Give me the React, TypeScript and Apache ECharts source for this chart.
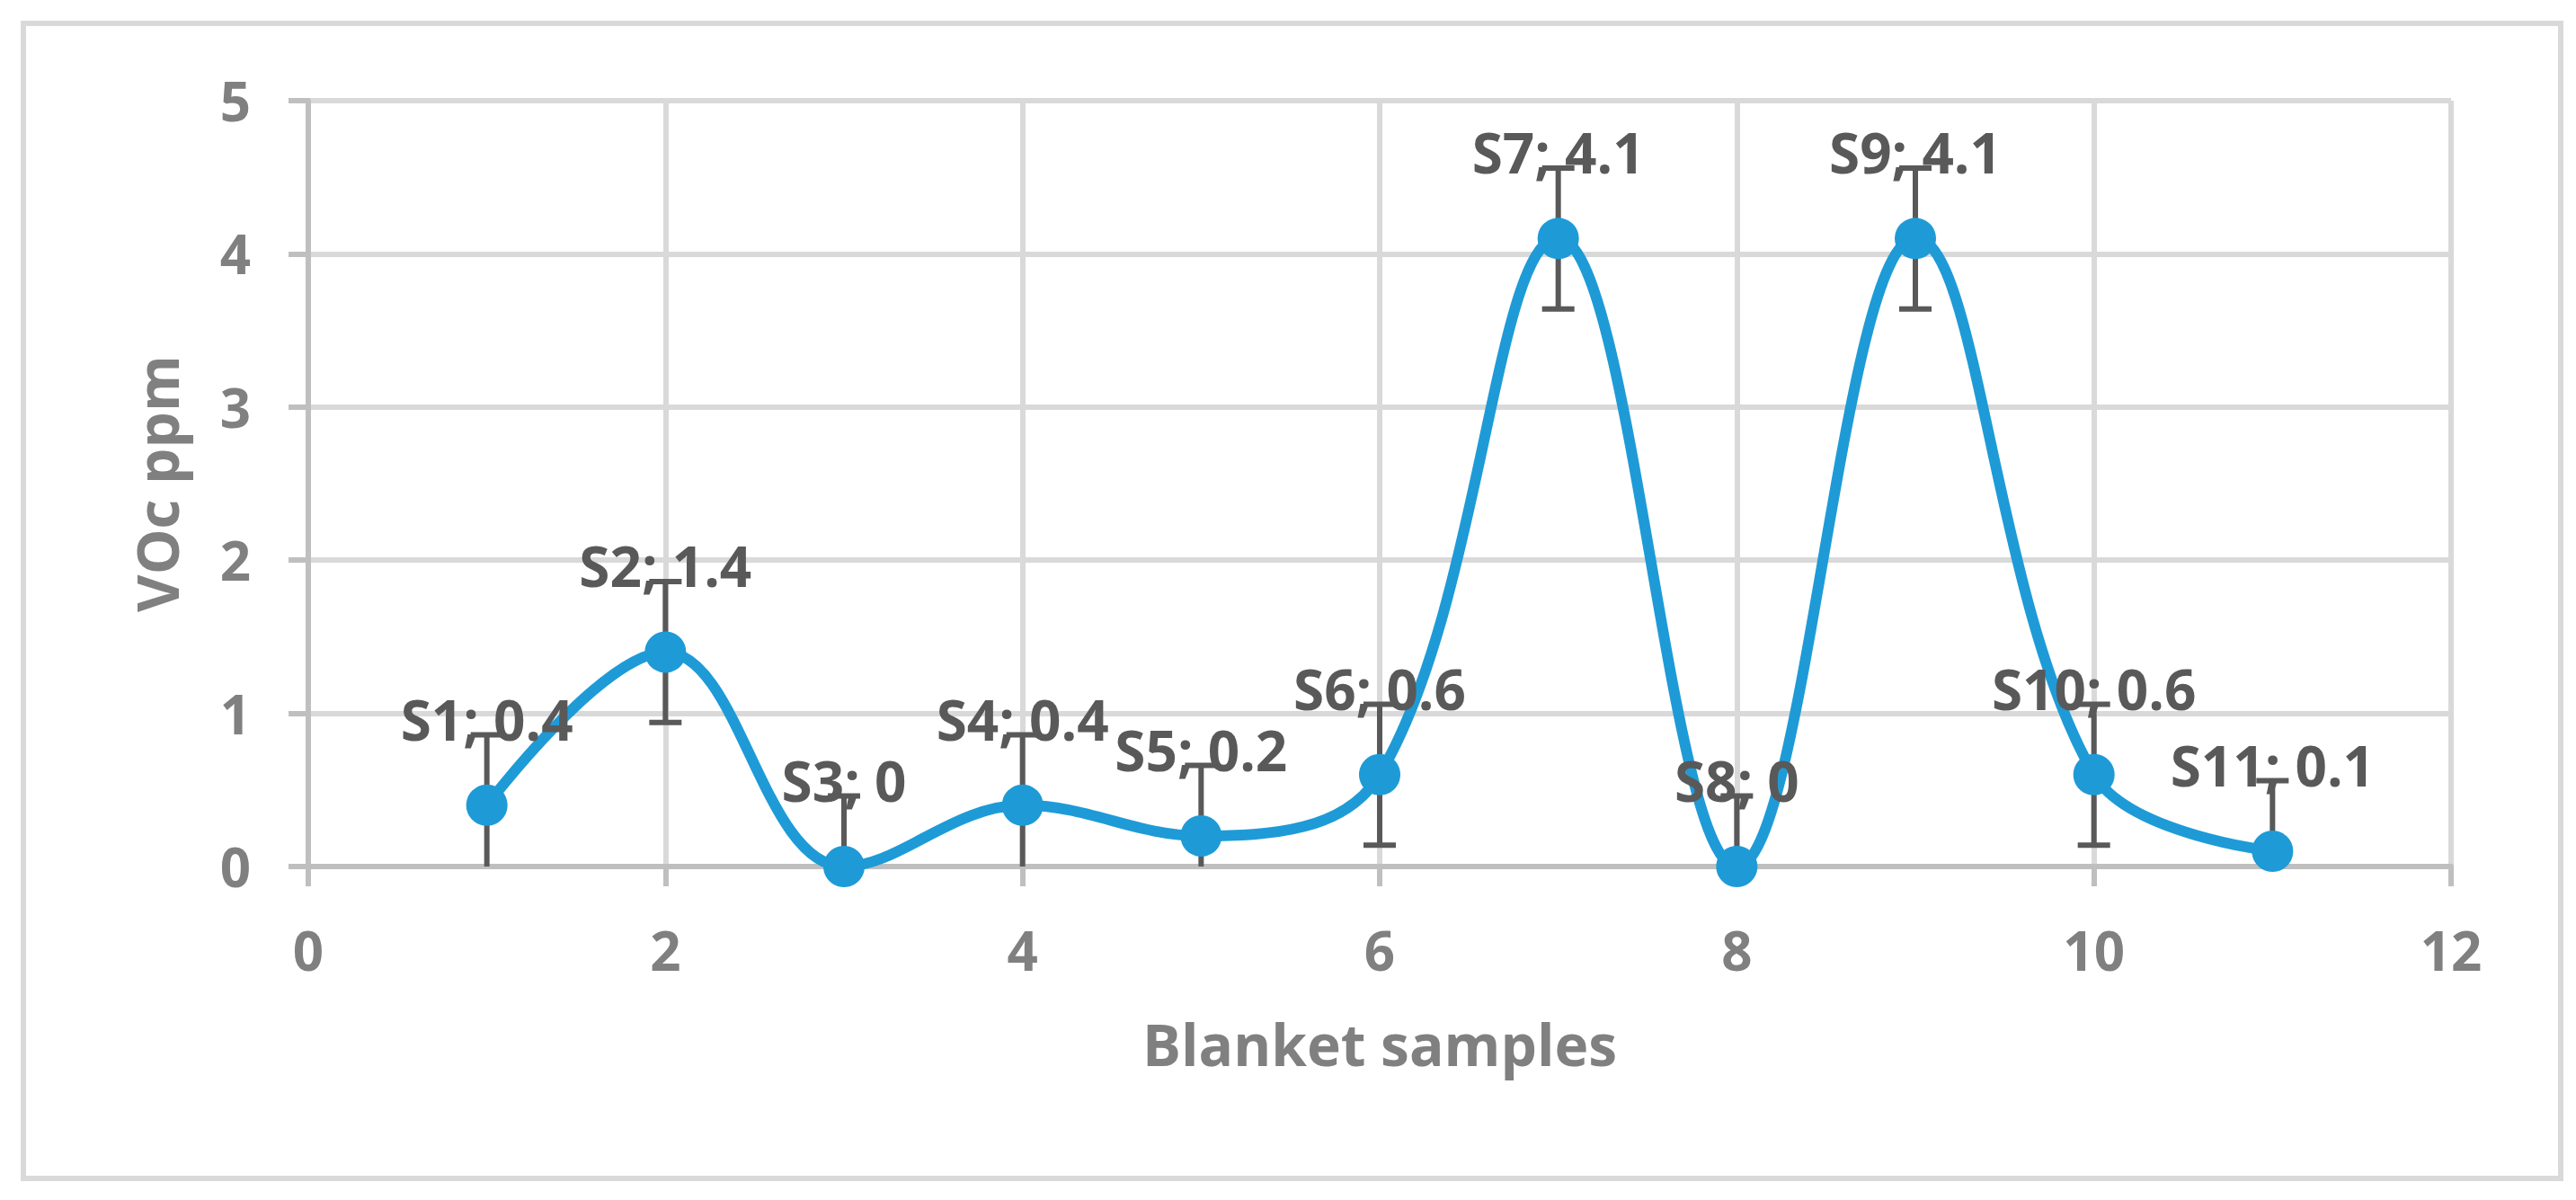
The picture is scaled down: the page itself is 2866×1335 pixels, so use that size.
import React, { useEffect, useRef } from "react";
import * as echarts from "echarts";

// ---- Data ----
const sampleNames = ["S1", "S2", "S3", "S4", "S5", "S6", "S7", "S8", "S9", "S10", "S11"];
const sampleX = [1, 2, 3, 4, 5, 6, 7, 8, 9, 10, 11];
const vocValues = [0.4, 1.4, 0, 0.4, 0.2, 0.6, 4.1, 0, 4.1, 0.6, 0.1];
const errorValues = [0.46, 0.46, 0.46, 0.46, 0.46, 0.46, 0.46, 0.46, 0.46, 0.46, 0.46];

const X_MIN = 0;
const X_MAX = 12;
const X_STEP = 2;
const Y_MIN = 0;
const Y_MAX = 5;
const Y_STEP = 1;

const X_TITLE = "Blanket samples";
const Y_TITLE = "VOc ppm";

const FONT = "'Open Sans', 'DejaVu Sans', sans-serif";
const BLUE = "#1e9bd7";
const DARK = "#595959";
const TICK_GRAY = "#808080";

export default function App() {
  const ref = useRef<HTMLDivElement>(null);

  useEffect(() => {
    if (!ref.current) return;
    const chart = echarts.init(ref.current, null, { renderer: "svg" });

    const lineData = sampleX.map((x, i) => [x, vocValues[i], sampleNames[i]]);
    const errData = sampleX.map((x, i) => [x, vocValues[i] - errorValues[i], vocValues[i] + errorValues[i]]);

    chart.setOption({
      animation: false,
      backgroundColor: "#ffffff",
      textStyle: { fontFamily: FONT },
      graphic: [
        {
          type: "rect",
          z: -10,
          shape: { x: 26, y: 26, width: 2823, height: 1285 },
          style: { fill: "none", stroke: "#d9d9d9", lineWidth: 6 },
        },
      ],
      grid: { left: 343, right: 2866 - 2727, top: 112, bottom: 1335 - 964, containLabel: false },
      xAxis: {
        type: "value",
        min: X_MIN,
        max: X_MAX,
        interval: X_STEP,
        axisLine: { show: true, onZero: false, lineStyle: { color: "#bfbfbf", width: 6 } },
        axisTick: { show: true, length: 22, lineStyle: { color: "#bfbfbf", width: 6 } },
        splitLine: { show: true, lineStyle: { color: "#d9d9d9", width: 6 } },
        axisLabel: { color: TICK_GRAY, fontSize: 60, fontWeight: "bold", margin: 63, fontFamily: FONT },
        name: X_TITLE,
        nameLocation: "middle",
        nameGap: 165,
        nameTextStyle: { color: TICK_GRAY, fontSize: 64, fontWeight: "bold", fontFamily: FONT },
      },
      yAxis: {
        type: "value",
        min: Y_MIN,
        max: Y_MAX,
        interval: Y_STEP,
        axisLine: { show: true, lineStyle: { color: "#bfbfbf", width: 6 } },
        axisTick: { show: true, length: 22, lineStyle: { color: "#bfbfbf", width: 6 } },
        splitLine: { show: true, lineStyle: { color: "#d9d9d9", width: 6 } },
        axisLabel: { color: TICK_GRAY, fontSize: 60, fontWeight: "bold", margin: 64, fontFamily: FONT },
        name: Y_TITLE,
        nameLocation: "middle",
        nameGap: 137,
        nameTextStyle: { color: TICK_GRAY, fontSize: 64, fontWeight: "bold", fontFamily: FONT },
      },
      series: [
        {
          type: "custom",
          z: 2,
          data: errData,
          encode: { x: 0, y: [1, 2] },
          renderItem: (params: any, api: any) => {
            const x = api.value(0);
            const lo = api.value(1);
            const hi = api.value(2);
            const loC = Math.max(lo, Y_MIN);
            const pTop = api.coord([x, hi]);
            const pBot = api.coord([x, loC]);
            const half = 18;
            const style = { stroke: DARK, lineWidth: 6 };
            const children: any[] = [
              { type: "line", shape: { x1: pTop[0], y1: pTop[1], x2: pBot[0], y2: pBot[1] }, style },
              { type: "line", shape: { x1: pTop[0] - half, y1: pTop[1], x2: pTop[0] + half, y2: pTop[1] }, style },
            ];
            if (lo >= Y_MIN) {
              children.push({
                type: "line",
                shape: { x1: pBot[0] - half, y1: pBot[1], x2: pBot[0] + half, y2: pBot[1] },
                style,
              });
            }
            return { type: "group", children };
          },
        },
        {
          type: "line",
          z: 3,
          data: lineData,
          smooth: 0.38,
          symbol: "circle",
          symbolSize: 46,
          showAllSymbol: true,
          lineStyle: { color: BLUE, width: 12 },
          itemStyle: { color: BLUE },
          label: {
            show: true,
            position: "top",
            distance: 42,
            color: DARK,
            fontSize: 62,
            fontWeight: "bold",
            fontFamily: FONT,
            formatter: (p: any) => `${p.data[2]}; ${p.data[1]}`,
          },
        },
      ],
    });

    return () => {
      chart.dispose();
    };
  }, []);

  return (
    <div
      ref={ref}
      style={{ position: "fixed", left: 0, top: 0, width: 2866, height: 1335, background: "#fff" }}
    />
  );
}
